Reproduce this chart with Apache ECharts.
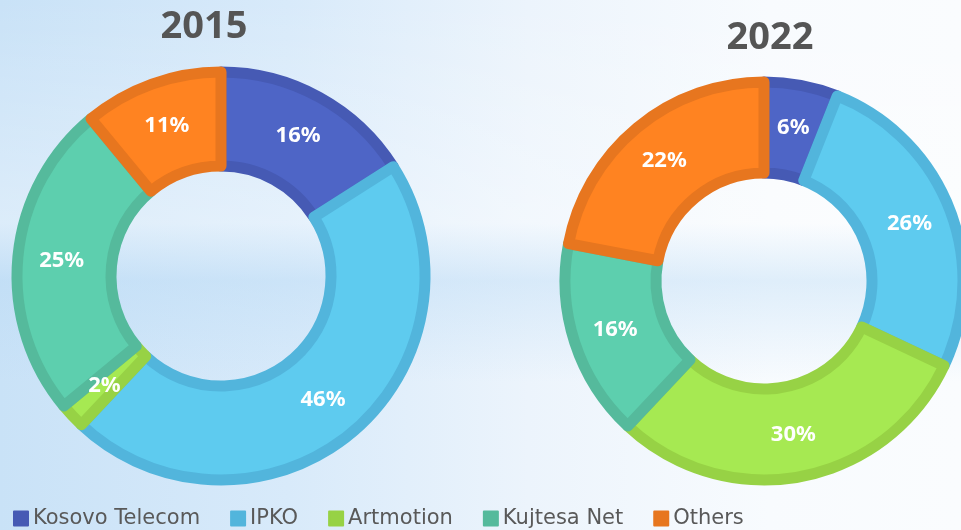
<!DOCTYPE html>
<html>
<head>
<meta charset="utf-8">
<script src="https://cdn.jsdelivr.net/npm/echarts@6/dist/echarts.min.js"></script>
<style>
  html, body { margin: 0; padding: 0; }
  #main {
    width: 961px; height: 530px;
    background:
      linear-gradient(180deg, rgba(255,255,255,0) 0%, rgba(255,255,255,0.35) 42%, rgba(185,218,245,0.4) 53%, rgba(255,255,255,0) 72%),
      linear-gradient(90deg, #c9e2f7 0%, #d8eafa 30%, #ecf4fc 55%, #f8fbfe 80%, #fafcfe 100%);
  }
</style>
</head>
<body>
<div id="main"></div>
<script>
const chart = echarts.init(document.getElementById('main'));

// operators, clockwise from 12 o'clock
const operators = ['Kosovo Telecom', 'IPKO', 'Artmotion', 'Kujtesa Net', 'Others'];
const share2015 = [16, 46, 2, 25, 11];
const share2022 = [6, 26, 30, 16, 22];
const years = ['2015', '2022'];

const fillColors = ['#4e65c6', '#5ecbef', '#a6e952', '#5dcfae', '#ff8321'];
const edgeColors = ['#465ab4', '#52b5dc', '#97d245', '#55ba9c', '#e7761f'];

function pieData(values) {
    return operators.map((n, i) => ({
        name: n,
        value: values[i],
        itemStyle: {
            color: fillColors[i],
            borderColor: edgeColors[i]
        }
    }));
}

const labelStyle = {
    show: true,
    position: 'inside',
    formatter: '{c}%',
    color: '#fff',
    fontFamily: 'Noto Sans',
    fontWeight: 'bold',
    fontSize: 22
};

const option = {
    animation: false,
    title: [{
        text: years[0],
        left: 199,
        top: 3,
        textAlign: 'center',
        textStyle: { fontFamily: 'Noto Sans', fontWeight: 'bold', fontSize: 38, color: '#555' }
    }, {
        text: years[1],
        left: 765,
        top: 14,
        textAlign: 'center',
        textStyle: { fontFamily: 'Noto Sans', fontWeight: 'bold', fontSize: 38, color: '#555' }
    }],
    legend: {
        data: operators.map((n, i) => ({ name: n, itemStyle: { color: edgeColors[i] } })),
        left: 8,
        top: 503,
        itemWidth: 14,
        itemHeight: 14,
        itemGap: 30,
        icon: 'rect',
        selectedMode: false,
        textStyle: { fontFamily: 'DejaVu Sans', fontSize: 21, color: '#595959' }
    },
    series: [{
        name: years[0],
        type: 'pie',
        center: [221, 276],
        radius: [110, 204],
        startAngle: 90,
        clockwise: true,
        silent: true,
        itemStyle: { borderWidth: 11 },
        label: labelStyle,
        labelLine: { show: false },
        data: pieData(share2015)
    }, {
        name: years[1],
        type: 'pie',
        center: [764, 281],
        radius: [108, 199],
        startAngle: 90,
        clockwise: true,
        silent: true,
        itemStyle: { borderWidth: 11 },
        label: labelStyle,
        labelLine: { show: false },
        data: pieData(share2022)
    }]
};

chart.setOption(option);
</script>
</body>
</html>
